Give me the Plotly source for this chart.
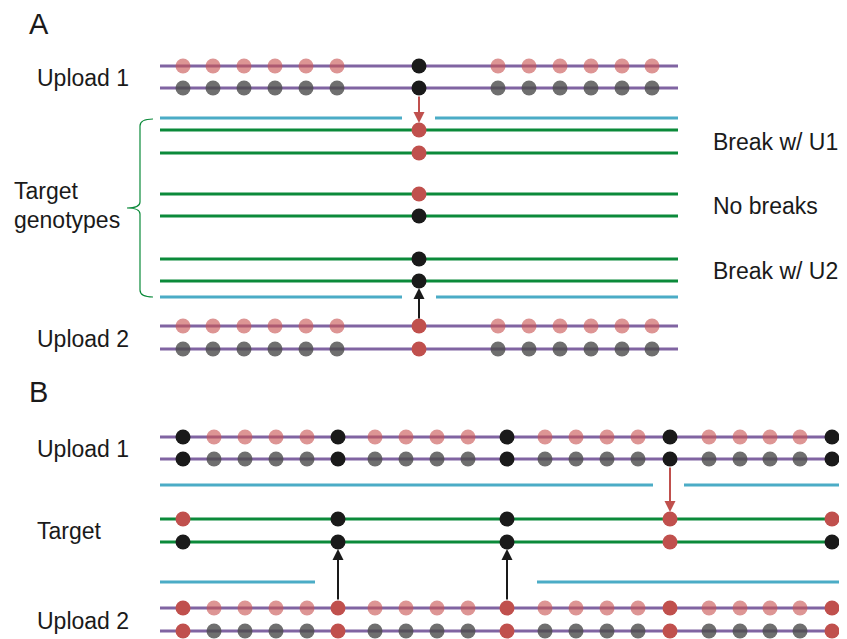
import plotly.graph_objects as go

# ---------------- data ----------------
# Panel A: marker (SNP) positions along the chromosome
A_pos = [183, 213, 244, 275, 306, 337, 419, 498, 529, 560, 591, 622, 652]
# genotype codes: p = faded allele 1, g = faded allele 2, k = black allele, r = red allele
A_up1_top = ["p"] * 6 + ["k"] + ["p"] * 6
A_up1_bot = ["g"] * 6 + ["k"] + ["g"] * 6
A_up2_top = ["p"] * 6 + ["r"] + ["p"] * 6
A_up2_bot = ["g"] * 6 + ["r"] + ["g"] * 6
A_target_pos = [419]
A_targets = [("r", "r"), ("r", "k"), ("k", "k")]
A_target_labels = ["Break w/ U1", "No breaks", "Break w/ U2"]
A_seg_up1 = [(160, 402), (435, 678)]
A_seg_up2 = [(160, 402), (436, 678)]

# Panel B
B_pos = [183, 214, 245, 276, 307, 338, 375, 406, 437, 468, 507,
         545, 576, 607, 638, 670, 709, 740, 770, 800, 832]
B_informative = [0, 5, 10, 15, 20]
B_target_top = ["r", "k", "k", "r", "r"]
B_target_bot = ["k", "k", "k", "r", "k"]
B_seg_up1 = [(160, 653), (684, 839)]
B_seg_up2 = [(160, 315), (537, 839)]

# ---------------- styles ----------------
COL = {"p": "rgba(200,84,82,0.62)", "g": "rgba(75,75,75,0.80)",
       "k": "#1a1a1a", "r": "#c0504d"}
PURPLE = "#8064a2"
GREEN = "#0b8a3a"
BLUE = "#4bacc6"
FONT = "Liberation Sans, Arial, sans-serif"
MS = 15
PAGE_OFFSET = 8  # default body margin of the html page

fig = go.Figure()


def hline(x0, x1, y, color, w=3):
    fig.add_trace(go.Scatter(x=[x0, x1], y=[y, y], mode="lines",
                             line=dict(color=color, width=w),
                             hoverinfo="skip", showlegend=False))


def dots(xs, codes, y):
    fig.add_trace(go.Scatter(x=xs, y=[y] * len(xs), mode="markers",
                             marker=dict(size=MS, color=[COL[c] for c in codes],
                                         line=dict(width=0)),
                             hoverinfo="skip", showlegend=False))


def arrow(x, y_from, y_to, color):
    fig.add_annotation(x=x, y=y_to, ax=x, ay=y_from, xref="x", yref="y",
                       axref="x", ayref="y", showarrow=True, arrowhead=2,
                       arrowsize=1.1, arrowwidth=2, arrowcolor=color, text="")


def label(x, y, t, size=23, anchor="left"):
    fig.add_annotation(x=x, y=y, xref="x", yref="y", text=t, showarrow=False,
                       xanchor=anchor, yanchor="middle",
                       font=dict(family=FONT, size=size, color="#1a1a1a"))


# ---- Panel A ----
yA_u1 = (66, 88)
yA_u2 = (326, 349)
yA_t = [(130, 153), (194, 216), (259, 281)]
yA_seg = (118, 297)

for y in yA_u1 + yA_u2:
    hline(160, 678, y, PURPLE)
for (y1, y2) in yA_t:
    hline(160, 678, y1, GREEN)
    hline(160, 678, y2, GREEN)
for (a, b) in A_seg_up1:
    hline(a, b, yA_seg[0], BLUE)
for (a, b) in A_seg_up2:
    hline(a, b, yA_seg[1], BLUE)

dots(A_pos, A_up1_top, yA_u1[0])
dots(A_pos, A_up1_bot, yA_u1[1])
dots(A_pos, A_up2_top, yA_u2[0])
dots(A_pos, A_up2_bot, yA_u2[1])
for (t, b), (y1, y2) in zip(A_targets, yA_t):
    dots(A_target_pos, [t], y1)
    dots(A_target_pos, [b], y2)

arrow(A_target_pos[0], 95, 123, COL["r"])
arrow(A_target_pos[0], 320, 288, COL["k"])

# bracket
fig.add_shape(type="path",
              path="M 153,119 Q 140,119 140,126 L 140,202 Q 140,208 127,208 "
                   "Q 140,208 140,214 L 140,290 Q 140,297 153,297",
              xref="x", yref="y", line=dict(color=GREEN, width=1.2))

label(27, 24, "A", size=29)
label(35, 78, "Upload 1")
label(35, 339, "Upload 2")
label(12, 191, "Target")
label(12, 220, "genotypes")
for t, (y1, y2) in zip(A_target_labels, yA_t):
    label(711, (y1 + y2) / 2 + 0.5, t)

# ---- Panel B ----
yB_u1 = (437, 459)
yB_t = (519, 542)
yB_u2 = (608, 631)
yB_seg = (485, 582)

for y in yB_u1 + yB_u2:
    hline(160, 839, y, PURPLE)
for y in yB_t:
    hline(160, 839, y, GREEN)
for (a, b) in B_seg_up1:
    hline(a, b, yB_seg[0], BLUE)
for (a, b) in B_seg_up2:
    hline(a, b, yB_seg[1], BLUE)

n = len(B_pos)
u1_top = ["k" if i in B_informative else "p" for i in range(n)]
u1_bot = ["k" if i in B_informative else "g" for i in range(n)]
u2_top = ["r" if i in B_informative else "p" for i in range(n)]
u2_bot = ["r" if i in B_informative else "g" for i in range(n)]
dots(B_pos, u1_top, yB_u1[0])
dots(B_pos, u1_bot, yB_u1[1])
dots(B_pos, u2_top, yB_u2[0])
dots(B_pos, u2_bot, yB_u2[1])
inf_x = [B_pos[i] for i in B_informative]
dots(inf_x, B_target_top, yB_t[0])
dots(inf_x, B_target_bot, yB_t[1])

arrow(B_pos[15], 466, 512, COL["r"])
arrow(B_pos[5], 601, 549, COL["k"])
arrow(B_pos[10], 601, 549, COL["k"])

label(27, 392, "B", size=29)
label(35, 449, "Upload 1")
label(35, 531, "Target")
label(35, 621, "Upload 2")

fig.update_layout(
    width=847, height=639, margin=dict(l=0, r=0, t=0, b=0),
    paper_bgcolor="white", plot_bgcolor="white",
    xaxis=dict(range=[PAGE_OFFSET, 847 + PAGE_OFFSET], visible=False, fixedrange=True),
    yaxis=dict(range=[639 + PAGE_OFFSET, PAGE_OFFSET], visible=False, fixedrange=True),
    showlegend=False,
)

fig.write_html("out.html")
